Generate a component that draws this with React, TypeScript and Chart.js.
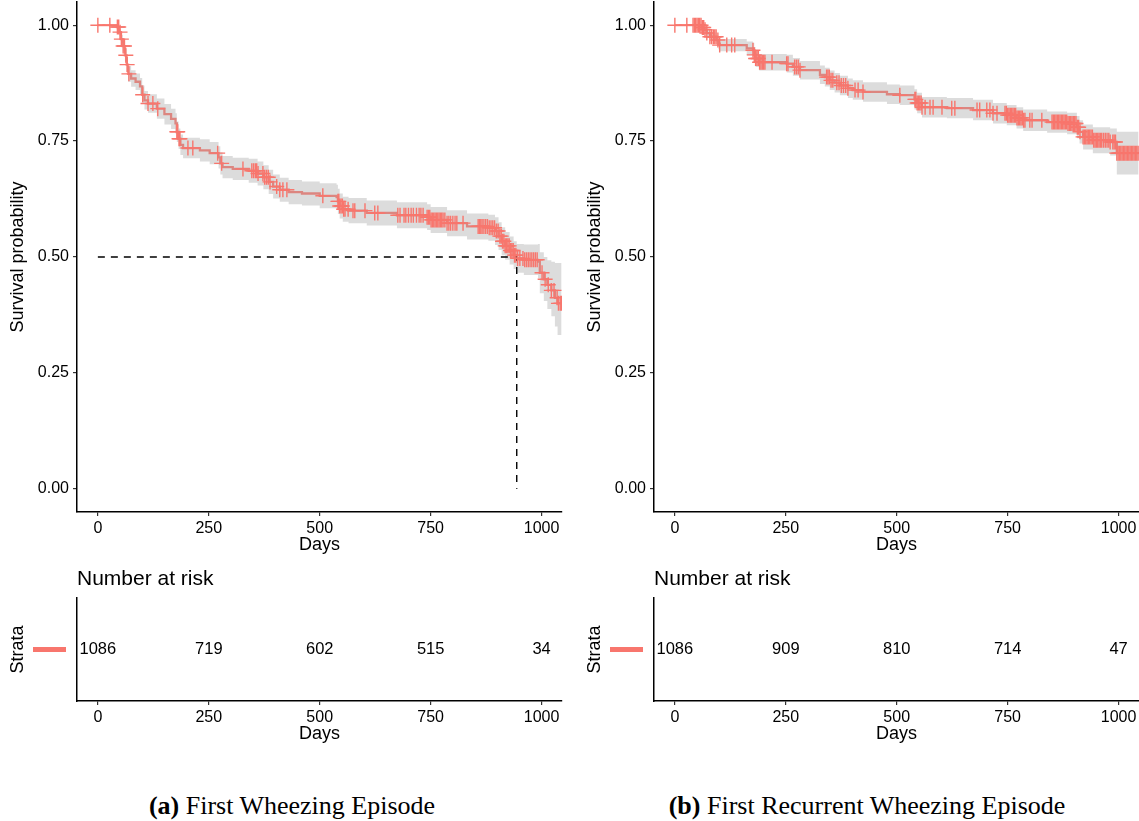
import React, { useEffect, useRef } from 'react';
import { Chart, registerables } from 'chart.js';

Chart.register(...registerables);
Chart.defaults.font.family = "'Liberation Sans', Arial, Helvetica, sans-serif";
Chart.defaults.color = '#000';

// ---------- shared axis data ----------
const xTickValues = [0, 250, 500, 750, 1000];
const yTickValues = [0, 0.25, 0.5, 0.75, 1];
const riskTimes = [0, 250, 500, 750, 1000];

// ---------- Panel A: First Wheezing Episode ----------
const timeA = [0, 43, 48, 52, 56, 61, 65, 68, 75, 85, 95, 100, 105, 113, 133, 150, 165, 175, 178, 182, 186, 192, 230, 252, 272, 276, 281, 304, 340, 360, 373, 385, 395, 410, 430, 460, 500, 538, 541, 545, 552, 565, 606, 674, 742, 750, 787, 832, 880, 895, 903, 910, 918, 928, 937, 944, 960, 992, 996, 1005, 1013, 1022, 1030, 1036, 1045];
const survA = [1.000, 0.996, 0.985, 0.970, 0.955, 0.935, 0.915, 0.895, 0.885, 0.878, 0.868, 0.850, 0.838, 0.831, 0.820, 0.808, 0.798, 0.788, 0.770, 0.755, 0.742, 0.735, 0.730, 0.724, 0.715, 0.702, 0.694, 0.690, 0.686, 0.680, 0.672, 0.662, 0.652, 0.645, 0.640, 0.637, 0.632, 0.629, 0.620, 0.610, 0.603, 0.600, 0.595, 0.590, 0.586, 0.580, 0.573, 0.566, 0.563, 0.556, 0.545, 0.534, 0.524, 0.514, 0.504, 0.497, 0.494, 0.490, 0.466, 0.452, 0.440, 0.428, 0.412, 0.400, 0.400];
const upperA = [1.000, 1.000, 0.992, 0.979, 0.966, 0.948, 0.930, 0.912, 0.903, 0.896, 0.886, 0.870, 0.858, 0.851, 0.842, 0.830, 0.820, 0.810, 0.792, 0.777, 0.764, 0.757, 0.754, 0.748, 0.739, 0.726, 0.718, 0.714, 0.712, 0.706, 0.698, 0.688, 0.678, 0.671, 0.666, 0.663, 0.659, 0.656, 0.647, 0.637, 0.630, 0.627, 0.622, 0.618, 0.614, 0.608, 0.601, 0.594, 0.591, 0.586, 0.575, 0.564, 0.554, 0.544, 0.534, 0.528, 0.527, 0.528, 0.510, 0.500, 0.493, 0.490, 0.487, 0.487, 0.487];
const lowerA = [1.000, 0.992, 0.978, 0.961, 0.944, 0.922, 0.900, 0.878, 0.867, 0.860, 0.850, 0.830, 0.818, 0.811, 0.798, 0.786, 0.776, 0.766, 0.748, 0.733, 0.720, 0.713, 0.706, 0.700, 0.691, 0.678, 0.670, 0.666, 0.660, 0.654, 0.646, 0.636, 0.626, 0.619, 0.614, 0.611, 0.605, 0.602, 0.593, 0.583, 0.576, 0.573, 0.568, 0.562, 0.558, 0.552, 0.545, 0.538, 0.535, 0.526, 0.515, 0.504, 0.494, 0.484, 0.474, 0.466, 0.461, 0.454, 0.422, 0.405, 0.388, 0.372, 0.350, 0.332, 0.332];
const censorA = [0, 27, 44, 47, 50, 53, 57, 60, 63, 66, 70, 101, 113, 124, 135, 178, 180, 183, 185, 203, 214, 270, 279, 327, 347, 351, 355, 358, 361, 372, 376, 380, 384, 388, 403, 410, 417, 426, 507, 541, 543, 545, 548, 551, 554, 557, 564, 575, 579, 602, 624, 631, 676, 681, 690, 694, 700, 706, 711, 718, 724, 728, 733, 742, 745, 748, 751, 754, 757, 760, 763, 766, 769, 772, 775, 778, 782, 787, 791, 795, 800, 805, 809, 823, 857, 860, 863, 866, 870, 874, 878, 882, 886, 890, 894, 898, 902, 906, 909, 912, 915, 918, 921, 924, 927, 930, 933, 936, 939, 942, 946, 951, 958, 962, 966, 970, 974, 978, 982, 986, 990, 1001, 1008, 1015, 1022, 1028, 1035, 1038, 1042, 1045];
const riskA = [1086, 719, 602, 515, 34];
const medianXA = [0, 944, 944];
const medianYA = [0.5, 0.5, 0];

// ---------- Panel B: First Recurrent Wheezing Episode ----------
const timeB = [0, 60, 66, 72, 79, 94, 98, 101, 162, 176, 179, 182, 190, 252, 266, 282, 327, 338, 349, 360, 372, 390, 401, 424, 478, 507, 540, 546, 557, 613, 672, 717, 748, 770, 785, 839, 884, 906, 912, 920, 942, 981, 996, 1045];
const survB = [1.000, 0.995, 0.990, 0.983, 0.975, 0.968, 0.960, 0.957, 0.950, 0.946, 0.936, 0.928, 0.920, 0.917, 0.910, 0.903, 0.893, 0.888, 0.881, 0.876, 0.870, 0.864, 0.860, 0.856, 0.851, 0.849, 0.840, 0.832, 0.823, 0.821, 0.817, 0.810, 0.806, 0.800, 0.795, 0.791, 0.788, 0.780, 0.770, 0.759, 0.752, 0.748, 0.724, 0.724];
const upperB = [1.000, 0.998, 0.995, 0.990, 0.984, 0.978, 0.972, 0.970, 0.965, 0.962, 0.953, 0.946, 0.938, 0.936, 0.929, 0.923, 0.913, 0.908, 0.902, 0.897, 0.891, 0.885, 0.881, 0.877, 0.872, 0.870, 0.862, 0.854, 0.845, 0.843, 0.839, 0.832, 0.828, 0.823, 0.818, 0.814, 0.811, 0.804, 0.795, 0.786, 0.780, 0.777, 0.770, 0.770];
const lowerB = [1.000, 0.992, 0.985, 0.976, 0.966, 0.958, 0.948, 0.944, 0.935, 0.930, 0.919, 0.910, 0.902, 0.898, 0.891, 0.883, 0.873, 0.868, 0.860, 0.855, 0.849, 0.843, 0.839, 0.835, 0.830, 0.828, 0.818, 0.810, 0.801, 0.799, 0.795, 0.788, 0.784, 0.777, 0.772, 0.768, 0.765, 0.756, 0.745, 0.732, 0.724, 0.719, 0.678, 0.678];
const censorB = [0, 27, 41, 44, 47, 50, 53, 56, 59, 62, 65, 68, 72, 79, 83, 87, 90, 93, 97, 101, 117, 128, 135, 176, 179, 182, 185, 188, 191, 194, 197, 200, 203, 219, 252, 255, 270, 274, 278, 282, 342, 345, 348, 352, 356, 365, 370, 375, 380, 385, 390, 406, 413, 424, 507, 541, 543, 546, 549, 552, 555, 557, 564, 575, 582, 602, 624, 631, 681, 687, 703, 710, 717, 726, 744, 747, 750, 753, 756, 759, 762, 765, 768, 771, 774, 777, 780, 783, 786, 789, 800, 805, 827, 850, 853, 856, 859, 862, 865, 868, 871, 874, 877, 880, 883, 886, 889, 892, 895, 898, 901, 904, 907, 910, 913, 920, 923, 926, 929, 932, 935, 938, 941, 944, 947, 950, 953, 956, 959, 962, 966, 970, 974, 978, 981, 987, 990, 993, 996, 999, 1002, 1005, 1008, 1011, 1014, 1017, 1020, 1023, 1026, 1029, 1032, 1035, 1038, 1041, 1044];
const riskB = [1086, 909, 810, 714, 47];

// ---------- style constants ----------
const X_MIN = -47;
const X_MAX = 1046;
const RED = '#F8766D';
const LINE = 'rgb(255,140,132)';
const BAND = 'rgba(120,120,120,0.26)';
const FONT = "'Liberation Sans', Arial, Helvetica, sans-serif";

const survAt = (times: number[], surv: number[], t: number) => {
  let v = surv[0];
  for (let i = 0; i < times.length; i++) {
    if (times[i] <= t) v = surv[i];
    else break;
  }
  return v;
};

const xScale = (height: number, titlePadBottom: number) => ({
  type: 'linear',
  min: X_MIN,
  max: X_MAX,
  afterBuildTicks: (s: any) => {
    s.ticks = xTickValues.map((v) => ({ value: v }));
  },
  afterFit: (s: any) => {
    s.height = height;
    s.paddingLeft = 0;
    s.paddingRight = 0;
  },
  grid: { display: true, drawOnChartArea: false, drawTicks: true, tickLength: 4, color: '#333', lineWidth: 1.2 },
  border: { display: true, color: '#000', width: 1.5 },
  ticks: {
    font: { size: 16 },
    color: '#000',
    padding: 3,
    maxRotation: 0,
    autoSkip: false,
    callback: (v: any) => String(v),
  },
  title: { display: true, text: 'Days', font: { size: 18 }, color: '#000', padding: { top: 0, bottom: titlePadBottom } },
});

type PanelProps = {
  left: number;
  width: number;
  padRight: number;
  times: number[];
  surv: number[];
  upper: number[];
  lower: number[];
  censor: number[];
  risk: number[];
  medianX?: number[];
  medianY?: number[];
};

function KMPanel(p: PanelProps) {
  const mainRef = useRef<HTMLCanvasElement>(null);
  const riskRef = useRef<HTMLCanvasElement>(null);

  useEffect(() => {
    const toPts = (xs: number[], ys: number[]) => xs.map((x, i) => ({ x, y: ys[i] }));
    const datasets: any[] = [
      {
        data: p.censor.map((t) => ({ x: t, y: survAt(p.times, p.surv, t) })),
        showLine: false,
        pointStyle: 'cross',
        pointRadius: 7.5,
        pointBorderColor: RED,
        pointBackgroundColor: RED,
        pointBorderWidth: 1.4,
        fill: false,
      },
    ];
    if (p.medianX && p.medianY) {
      datasets.push({
        data: toPts(p.medianX, p.medianY),
        borderColor: '#000',
        borderWidth: 1.4,
        borderDash: [7, 6],
        pointRadius: 0,
        fill: false,
      });
    }
    datasets.push(
      {
        data: toPts(p.times, p.upper),
        stepped: true,
        borderColor: 'rgba(0,0,0,0)',
        borderWidth: 1,
        pointRadius: 0,
        fill: '+1',
        backgroundColor: BAND,
      },
      {
        data: toPts(p.times, p.lower),
        stepped: true,
        borderColor: 'rgba(0,0,0,0)',
        borderWidth: 1,
        pointRadius: 0,
        fill: false,
      },
      {
        data: toPts(p.times, p.surv),
        stepped: true,
        borderColor: LINE,
        borderWidth: 2.3,
        pointRadius: 0,
        fill: false,
      }
    );

    const main = new Chart(mainRef.current as HTMLCanvasElement, {
      type: 'line',
      data: { datasets },
      options: {
        animation: false,
        responsive: false,
        maintainAspectRatio: false,
        events: [],
        layout: { autoPadding: false, padding: { top: 2, right: p.padRight, left: 0, bottom: 0 } },
        plugins: { legend: { display: false }, tooltip: { enabled: false }, title: { display: false } },
        scales: {
          x: xScale(48, 4) as any,
          y: {
            type: 'linear',
            min: -0.05,
            max: 1.05,
            afterBuildTicks: (s: any) => {
              s.ticks = yTickValues.map((v) => ({ value: v }));
            },
            afterFit: (s: any) => {
              s.width = 77;
              s.paddingTop = 0;
              s.paddingBottom = 0;
            },
            grid: { display: true, drawOnChartArea: false, drawTicks: true, tickLength: 4, color: '#333', lineWidth: 1.2 },
            border: { display: true, color: '#000', width: 1.5 },
            ticks: { font: { size: 16 }, color: '#000', padding: 4, callback: (v: any) => Number(v).toFixed(2) },
            title: { display: true, text: 'Survival probability', font: { size: 18 }, color: '#000', padding: { top: 7, bottom: 0 } },
          },
        },
      } as any,
    });

    const riskCounts = p.risk;
    const riskPlugin = {
      id: 'riskLabels',
      afterDatasetsDraw(chart: any) {
        const { ctx, chartArea } = chart;
        const meta = chart.getDatasetMeta(0);
        ctx.save();
        ctx.fillStyle = '#000';
        ctx.font = `16.5px ${FONT}`;
        ctx.textAlign = 'center';
        ctx.textBaseline = 'middle';
        meta.data.forEach((pt: any, i: number) => {
          ctx.fillText(String(riskCounts[i]), pt.x, pt.y);
        });
        // strata colour key
        const yMid = chart.scales.y.getPixelForValue(0.5);
        ctx.fillStyle = RED;
        ctx.fillRect(chartArea.left - 44, yMid - 2.5, 33, 5);
        // table title
        ctx.fillStyle = '#000';
        ctx.font = `21px ${FONT}`;
        ctx.textAlign = 'left';
        ctx.fillText('Number at risk', chartArea.left, 19);
        ctx.restore();
      },
    };

    const risk = new Chart(riskRef.current as HTMLCanvasElement, {
      type: 'line',
      data: {
        datasets: [
          {
            data: riskTimes.map((t) => ({ x: t, y: 0.5 })),
            showLine: false,
            pointRadius: 0,
          },
        ],
      },
      options: {
        animation: false,
        responsive: false,
        maintainAspectRatio: false,
        events: [],
        layout: { autoPadding: false, padding: { top: 38, right: p.padRight, left: 0, bottom: 0 } },
        plugins: { legend: { display: false }, tooltip: { enabled: false } },
        scales: {
          x: xScale(49, 5) as any,
          y: {
            type: 'linear',
            min: 0,
            max: 1,
            afterFit: (s: any) => {
              s.width = 77;
              s.paddingTop = 0;
              s.paddingBottom = 0;
            },
            grid: { display: false },
            border: { display: true, color: '#000', width: 1.5 },
            ticks: { display: false },
            title: { display: true, text: 'Strata', font: { size: 18 }, color: '#000', padding: { top: 7, bottom: 0 } },
          },
        },
      } as any,
      plugins: [riskPlugin],
    });

    return () => {
      main.destroy();
      risk.destroy();
    };
  }, []);

  return (
    <>
      <canvas
        ref={mainRef}
        width={p.width}
        height={560}
        style={{ position: 'absolute', left: p.left, top: 0, width: p.width, height: 560 }}
      />
      <canvas
        ref={riskRef}
        width={p.width}
        height={190}
        style={{ position: 'absolute', left: p.left, top: 560, width: p.width, height: 190 }}
      />
    </>
  );
}

const captionStyle = (center: number): React.CSSProperties => ({
  position: 'absolute',
  left: center - 300,
  width: 600,
  top: 790,
  textAlign: 'center',
  fontFamily: "'Liberation Serif', 'Times New Roman', serif",
  fontSize: 26,
  lineHeight: '32px',
  color: '#000',
  whiteSpace: 'nowrap',
});

export default function App() {
  return (
    <div style={{ position: 'absolute', left: 0, top: 0, width: 1139, height: 821, background: '#fff', overflow: 'hidden' }}>
      <KMPanel
        left={0}
        width={570}
        padRight={8}
        times={timeA}
        surv={survA}
        upper={upperA}
        lower={lowerA}
        censor={censorA}
        risk={riskA}
        medianX={medianXA}
        medianY={medianYA}
      />
      <KMPanel
        left={577}
        width={562}
        padRight={0}
        times={timeB}
        surv={survB}
        upper={upperB}
        lower={lowerB}
        censor={censorB}
        risk={riskB}
      />
      <div style={captionStyle(292)}>
        <b>(a)</b> First Wheezing Episode
      </div>
      <div style={captionStyle(867)}>
        <b>(b)</b> First Recurrent Wheezing Episode
      </div>
    </div>
  );
}
